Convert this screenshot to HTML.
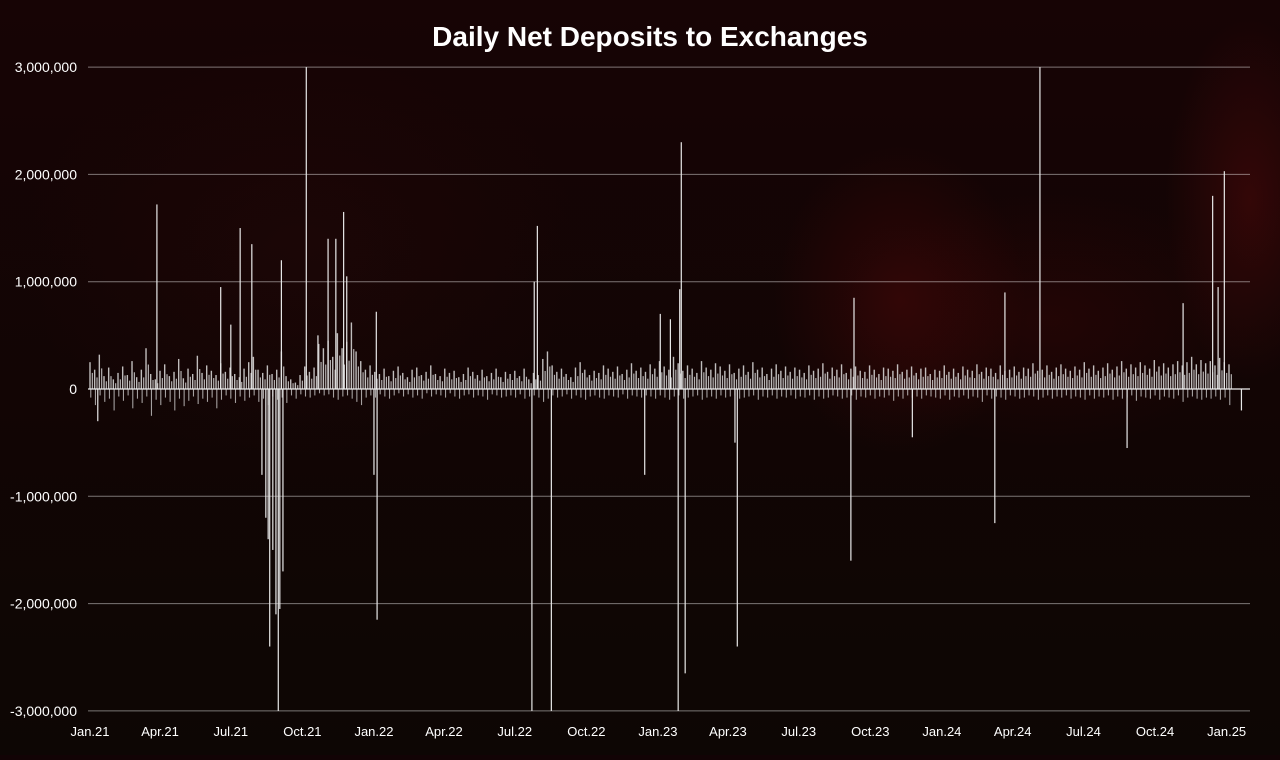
<!DOCTYPE html>
<html><head><meta charset="utf-8">
<style>
html,body{margin:0;padding:0;}
body{width:1280px;height:755px;overflow:hidden;background:#120305;font-family:"Liberation Sans",sans-serif;}
#wrap{position:relative;width:1280px;height:755px;
background:
radial-gradient(ellipse 180px 220px at 900px 300px, rgba(100,8,8,0.35), rgba(0,0,0,0) 70%),
radial-gradient(ellipse 120px 260px at 1250px 200px, rgba(110,12,12,0.35), rgba(0,0,0,0) 70%),
radial-gradient(ellipse 300px 180px at 1050px 320px, rgba(70,6,6,0.3), rgba(0,0,0,0) 70%),
radial-gradient(ellipse 400px 300px at 300px 250px, rgba(45,8,8,0.3), rgba(0,0,0,0) 70%),
linear-gradient(#170405,#0d0604);}
</style></head><body>
<div id="wrap">
<svg id="chart" width="1280" height="755">
<text x="650" y="46" text-anchor="middle" fill="#fff" font-size="28" font-weight="bold" font-family="Liberation Sans, sans-serif">Daily Net Deposits to Exchanges</text>
<g id="grid"></g>
<g id="ylab"></g>
<g id="xlab"></g>
<g id="bars"></g>
</svg>
</div>
<script>
const yTicks=[3000000,2000000,1000000,0,-1000000,-2000000,-3000000];
const yTickLabels=["3,000,000","2,000,000","1,000,000","0","-1,000,000","-2,000,000","-3,000,000"];
const xTickLabels=["Jan.21","Apr.21","Jul.21","Oct.21","Jan.22","Apr.22","Jul.22","Oct.22","Jan.23","Apr.23","Jul.23","Oct.23","Jan.24","Apr.24","Jul.24","Oct.24","Jan.25"];
const xTickDays=[0,90,181,273,365,455,546,638,730,820,911,1003,1095,1186,1277,1369,1461];
// baseline values (thousands), one per 6 days
const basePos=[250,180,320,120,200,90,150,210,130,260,110,180,380,140,90,170,230,120,160,280,100,190,140,310,150,220,170,130,240,160,
 200,140,110,190,250,300,180,150,220,140,180,350,120,90,60,130,210,160,200,420,380,450,300,520,380,440,620,350,260,180,
 220,160,140,190,120,170,210,150,110,180,200,130,160,220,140,120,190,150,170,110,140,200,160,130,180,120,150,190,110,160,
 140,170,120,190,90,150,130,280,350,220,160,190,140,110,200,250,180,130,170,150,220,190,160,210,140,180,240,170,200,160,
 230,190,260,210,180,300,240,170,220,190,150,260,200,180,240,210,170,230,150,190,220,160,250,180,200,140,190,230,170,210,
 160,200,180,150,220,170,190,240,160,200,180,230,150,190,210,170,160,220,180,140,200,190,170,230,160,180,210,150,190,200,
 140,180,170,220,160,190,150,210,180,170,230,160,200,190,150,220,170,180,210,160,200,190,240,170,180,220,160,200,230,190,
 170,210,180,250,190,220,170,200,240,180,210,260,190,230,200,250,220,190,270,210,240,200,230,260,220,250,300,230,270,240,
 260,220,290,250,230];
const baseNeg=[-80,-150,-60,-120,-90,-200,-70,-110,-60,-180,-90,-130,-70,-250,-100,-150,-80,-120,-200,-90,-160,-110,-70,-140,-90,-120,-80,-180,-100,-60,
 -90,-130,-70,-110,-80,-60,-120,-90,-150,-70,-100,-80,-130,-60,-90,-50,-70,-80,-60,-40,-60,-50,-80,-100,-70,-60,-90,-120,-150,-80,
 -60,-80,-50,-70,-90,-60,-40,-70,-50,-80,-60,-90,-40,-70,-50,-60,-80,-40,-70,-90,-60,-50,-80,-60,-70,-100,-50,-60,-80,-70,
 -60,-80,-50,-90,-70,-60,-80,-120,-90,-60,-80,-70,-50,-90,-60,-80,-100,-70,-60,-80,-90,-60,-70,-80,-50,-90,-60,-70,-80,-60,
 -70,-90,-60,-80,-100,-70,-60,-90,-80,-70,-60,-100,-80,-70,-90,-60,-80,-70,-60,-90,-80,-70,-60,-100,-70,-80,-60,-90,-70,-80,
 -60,-90,-70,-80,-60,-100,-70,-90,-80,-60,-70,-90,-80,-60,-100,-70,-80,-60,-90,-70,-80,-60,-110,-70,-90,-60,-80,-70,-90,-60,
 -70,-80,-90,-60,-100,-70,-80,-60,-90,-70,-80,-120,-60,-90,-70,-80,-100,-60,-70,-90,-80,-60,-70,-100,-80,-60,-90,-70,-80,-60,
 -90,-70,-80,-100,-60,-90,-70,-80,-60,-100,-70,-90,-80,-60,-110,-70,-80,-90,-60,-100,-70,-80,-90,-60,-120,-80,-70,-90,-100,-80,
 -90,-70,-100,-80,-150];
// notable spikes: [day offset from Jan 1 2021, value in thousands]
const spikes=[[10,-300],[86,1720],[168,950],[181,600],[193,1500],[208,1350],[221,-800],[226,-1200],[229,-1400],[231,-2400],
 [235,-1500],[239,-2100],[242,-3000],[244,-2050],[248,-1700],[246,1200],[278,3000],[293,500],[306,1400],[316,1400],[326,1650],[330,1050],
 [365,-800],[369,-2150],[368,720],[568,-3000],[571,1000],[575,1520],[593,-3000],[713,-800],[733,700],[746,650],[756,-3000],[758,930],
 [760,2300],[765,-2650],[829,-500],[832,-2400],[978,-1600],[982,850],[1057,-450],[1163,-1250],[1176,900],[1221,3000],[1333,-550],
 [1405,800],[1443,1800],[1450,950],[1458,2030],[1480,-200]];
const X0=90,PXD=0.778,Y0=389,PXM=107.3/1e6;
const xs=d=>X0+d*PXD, ys=v=>Y0-v*PXM;
const NS="http://www.w3.org/2000/svg";
const g=document.getElementById('grid'),yl=document.getElementById('ylab'),xl=document.getElementById('xlab'),b=document.getElementById('bars');
function mk(t,a){const e=document.createElementNS(NS,t);for(const k in a)e.setAttribute(k,a[k]);return e;}
yTicks.forEach((v,i)=>{
 const l=mk('line',{x1:88,x2:1250,y1:ys(v),y2:ys(v),stroke:'rgba(255,255,255,0.45)','stroke-width':1});
 
 
 g.appendChild(l);
 const t=mk('text',{x:77,y:ys(v)+5,'text-anchor':'end',fill:'#fff','font-size':14});
 
 
 t.textContent=yTickLabels[i];yl.appendChild(t);
});
xTickDays.forEach((d,i)=>{
 const t=mk('text',{x:xs(d),y:736,'text-anchor':'middle',fill:'#fff','font-size':13});
 
 
 t.textContent=xTickLabels[i];xl.appendChild(t);
});
function bar(d,v,w,c){
 const y=Math.min(ys(v),Y0),h=Math.abs(ys(v)-Y0);
 const r=mk('rect',{x:xs(d)-w/2,y:y,width:w,height:Math.max(h,0.5),fill:c});
 
 
 b.appendChild(r);
}
basePos.forEach((v,i)=>{bar(i*6,v*1000,1.4,'rgba(235,235,235,0.8)');bar(i*6+3,v*600,1.2,'rgba(235,235,235,0.75)');});
baseNeg.forEach((v,i)=>{bar(i*6+1,v*1000,1.1,'rgba(225,225,225,0.7)');});
spikes.forEach(s=>bar(s[0],s[1]*1000,1.2,'#e8e8e8'));
const zl=mk('line',{x1:88,x2:1250,y1:Y0,y2:Y0,stroke:'#eee','stroke-width':1.2});


b.appendChild(zl);
</script>
</body></html>
